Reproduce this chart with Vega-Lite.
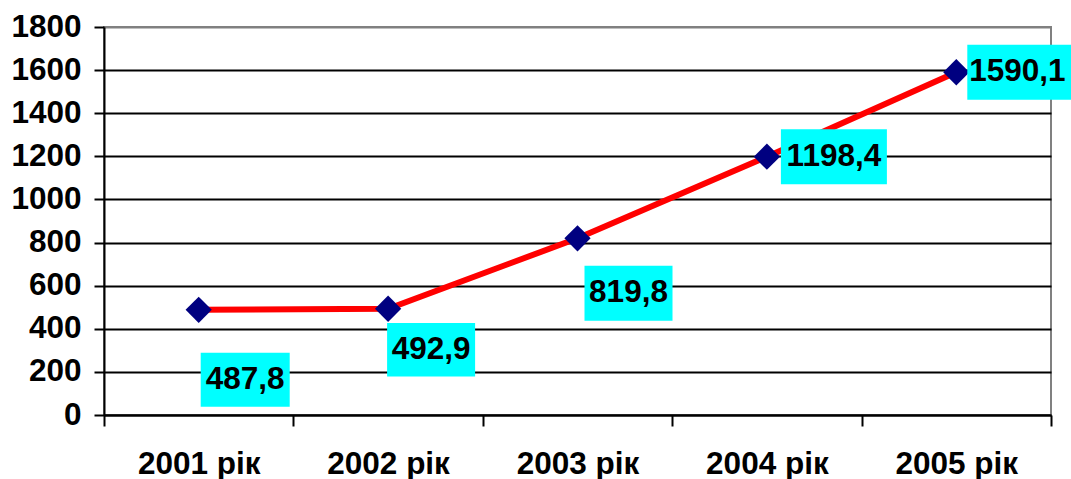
{
  "$schema": "https://vega.github.io/schema/vega-lite/v6.json",
  "autosize": "none",
  "width": 947,
  "height": 388,
  "padding": {"left": 104, "top": 27, "right": 20, "bottom": 64},
  "background": "white",
  "config": {
    "font": "Liberation Sans",
    "view": {"stroke": "#808080", "strokeWidth": 2}
  },
  "data": {
    "values": [
      {"year": "2001 рік", "value": 487.8, "label": "487,8"},
      {"year": "2002 рік", "value": 492.9, "label": "492,9"},
      {"year": "2003 рік", "value": 819.8, "label": "819,8"},
      {"year": "2004 рік", "value": 1198.4, "label": "1198,4"},
      {"year": "2005 рік", "value": 1590.1, "label": "1590,1"}
    ]
  },
  "encoding": {
    "x": {
      "field": "year",
      "type": "ordinal",
      "sort": null,
      "scale": {"type": "band", "paddingInner": 0, "paddingOuter": 0},
      "axis": {
        "title": null,
        "labelAngle": 0,
        "labelFont": "Liberation Sans",
        "labelFontSize": 31.5,
        "labelFontWeight": "bold",
        "labelColor": "black",
        "labelBaseline": "alphabetic",
        "labelPadding": 47,
        "domainColor": "black",
        "domainWidth": 2,
        "tickColor": "black",
        "tickWidth": 2,
        "tickSize": 11,
        "tickBand": "extent",
        "grid": false
      }
    },
    "y": {
      "field": "value",
      "type": "quantitative",
      "scale": {"domain": [0, 1800], "nice": false},
      "axis": {
        "title": null,
        "format": "d",
        "values": [0, 200, 400, 600, 800, 1000, 1200, 1400, 1600, 1800],
        "labelFont": "Liberation Sans",
        "labelFontSize": 31.5,
        "labelFontWeight": "bold",
        "labelColor": "black",
        "labelPadding": 13,
        "domainColor": "black",
        "domainWidth": 2,
        "tickColor": "black",
        "tickWidth": 2,
        "tickSize": 10,
        "grid": true,
        "gridColor": {"condition": {"test": "datum.value === 1800", "value": "#808080"}, "value": "black"},
        "gridWidth": 2
      }
    }
  },
  "layer": [
    {"mark": {"type": "line", "color": "#FF0000", "strokeWidth": 6}},
    {"mark": {"type": "point", "shape": "diamond", "filled": true, "color": "#000080", "opacity": 1, "size": 690}},
    {
      "transform": [{"filter": "datum.year === '2001 рік'"}],
      "layer": [
        {"mark": {"type": "point", "shape": "M-1,-0.607H1V0.607H-1Z", "size": 7921, "filled": true, "color": "#00FFFF", "opacity": 1, "strokeWidth": 0, "xOffset": 46.5, "yOffset": 70}},
        {"mark": {"type": "text", "font": "Liberation Sans", "fontSize": 31.5, "fontWeight": "bold", "color": "black", "align": "center", "baseline": "middle", "xOffset": 46.5, "yOffset": 70}, "encoding": {"text": {"field": "label"}}}
      ]
    },
    {
      "transform": [{"filter": "datum.year === '2002 рік'"}],
      "layer": [
        {"mark": {"type": "point", "shape": "M-1,-0.607H1V0.607H-1Z", "size": 7744, "filled": true, "color": "#00FFFF", "opacity": 1, "strokeWidth": 0, "xOffset": 43, "yOffset": 41}},
        {"mark": {"type": "text", "font": "Liberation Sans", "fontSize": 31.5, "fontWeight": "bold", "color": "black", "align": "center", "baseline": "middle", "xOffset": 43, "yOffset": 41}, "encoding": {"text": {"field": "label"}}}
      ]
    },
    {
      "transform": [{"filter": "datum.year === '2003 рік'"}],
      "layer": [
        {"mark": {"type": "point", "shape": "M-1,-0.625H1V0.625H-1Z", "size": 7744, "filled": true, "color": "#00FFFF", "opacity": 1, "strokeWidth": 0, "xOffset": 51, "yOffset": 55}},
        {"mark": {"type": "text", "font": "Liberation Sans", "fontSize": 31.5, "fontWeight": "bold", "color": "black", "align": "center", "baseline": "middle", "xOffset": 51, "yOffset": 55}, "encoding": {"text": {"field": "label"}}}
      ]
    },
    {
      "transform": [{"filter": "datum.year === '2004 рік'"}],
      "layer": [
        {"mark": {"type": "point", "shape": "M-1,-0.519H1V0.519H-1Z", "size": 11236, "filled": true, "color": "#00FFFF", "opacity": 1, "strokeWidth": 0, "xOffset": 67, "yOffset": 0}},
        {"mark": {"type": "text", "font": "Liberation Sans", "fontSize": 31.5, "fontWeight": "bold", "color": "black", "align": "center", "baseline": "middle", "xOffset": 67, "yOffset": 0}, "encoding": {"text": {"field": "label"}}}
      ]
    },
    {
      "transform": [{"filter": "datum.year === '2005 рік'"}],
      "layer": [
        {"mark": {"type": "point", "shape": "M-1,-0.519H1V0.519H-1Z", "size": 11236, "filled": true, "color": "#00FFFF", "opacity": 1, "strokeWidth": 0, "xOffset": 64, "yOffset": 0, "clip": false}},
        {"mark": {"type": "text", "font": "Liberation Sans", "fontSize": 31.5, "fontWeight": "bold", "color": "black", "align": "center", "baseline": "middle", "xOffset": 61, "yOffset": 0}, "encoding": {"text": {"field": "label"}}}
      ]
    }
  ]
}
